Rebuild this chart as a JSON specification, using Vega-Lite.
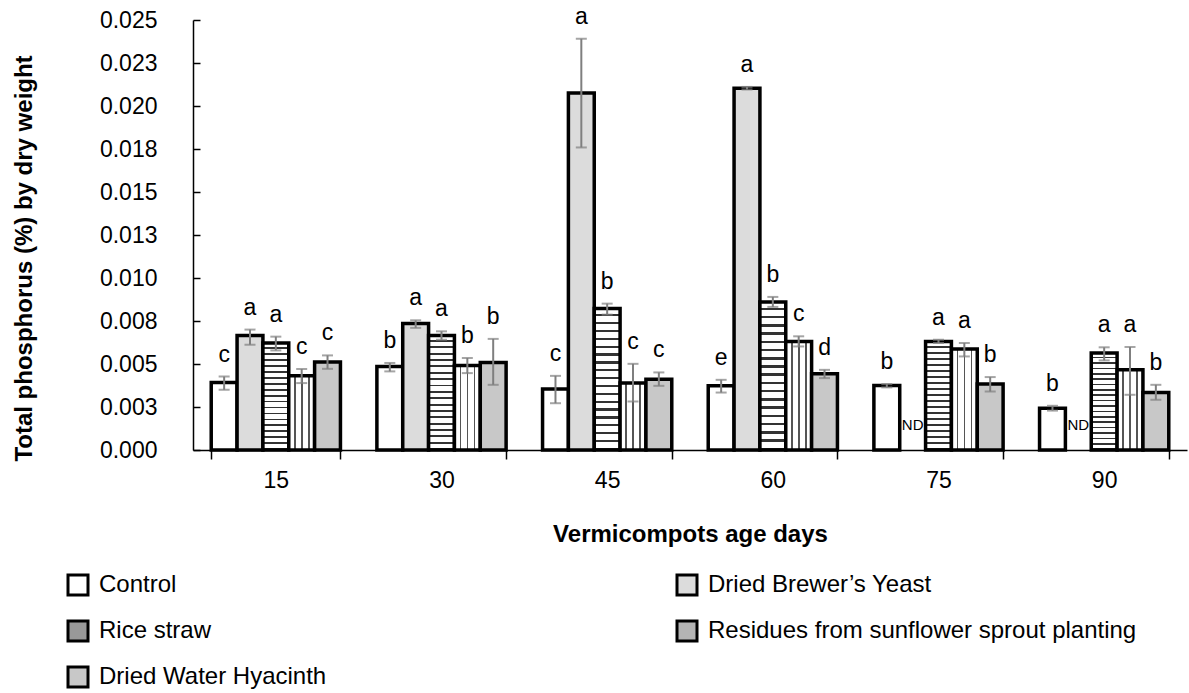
{
  "$schema": "https://vega.github.io/schema/vega-lite/v6.json",
  "width": 994,
  "height": 430,
  "autosize": {"type": "none"},
  "padding": {"left": 193, "top": 20, "right": 2, "bottom": 243},
  "background": "white",
  "config": {"font": "Liberation Sans", "view": {"stroke": null}},
  "data": {
    "values": [
      {"day": "15", "trt": "Control", "value": 0.00392, "lo": 0.0035, "hi": 0.00427, "letter": "c"},
      {"day": "15", "trt": "Dried Brewer’s Yeast", "value": 0.00665, "lo": 0.00612, "hi": 0.007, "letter": "a"},
      {"day": "15", "trt": "Rice straw", "value": 0.00622, "lo": 0.00579, "hi": 0.00659, "letter": "a"},
      {"day": "15", "trt": "Residues from sunflower sprout planting", "value": 0.00431, "lo": 0.00389, "hi": 0.00471, "letter": "c"},
      {"day": "15", "trt": "Dried Water Hyacinth", "value": 0.00511, "lo": 0.00472, "hi": 0.0055, "letter": "c"},
      {"day": "30", "trt": "Control", "value": 0.00486, "lo": 0.00457, "hi": 0.00506, "letter": "b"},
      {"day": "30", "trt": "Dried Brewer’s Yeast", "value": 0.00735, "lo": 0.0071, "hi": 0.00754, "letter": "a"},
      {"day": "30", "trt": "Rice straw", "value": 0.00665, "lo": 0.00641, "hi": 0.0069, "letter": "a"},
      {"day": "30", "trt": "Residues from sunflower sprout planting", "value": 0.00492, "lo": 0.00447, "hi": 0.00535, "letter": "b"},
      {"day": "30", "trt": "Dried Water Hyacinth", "value": 0.00509, "lo": 0.00379, "hi": 0.00646, "letter": "b"},
      {"day": "45", "trt": "Control", "value": 0.00354, "lo": 0.00272, "hi": 0.00431, "letter": "c"},
      {"day": "45", "trt": "Dried Brewer’s Yeast", "value": 0.02076, "lo": 0.01759, "hi": 0.02391, "letter": "a"},
      {"day": "45", "trt": "Rice straw", "value": 0.00822, "lo": 0.00787, "hi": 0.00851, "letter": "b"},
      {"day": "45", "trt": "Residues from sunflower sprout planting", "value": 0.00389, "lo": 0.00282, "hi": 0.00501, "letter": "c"},
      {"day": "45", "trt": "Dried Water Hyacinth", "value": 0.00412, "lo": 0.00373, "hi": 0.00451, "letter": "c"},
      {"day": "60", "trt": "Control", "value": 0.00373, "lo": 0.00334, "hi": 0.00408, "letter": "e"},
      {"day": "60", "trt": "Dried Brewer’s Yeast", "value": 0.02103, "lo": 0.02096, "hi": 0.02111, "letter": "a"},
      {"day": "60", "trt": "Rice straw", "value": 0.00861, "lo": 0.00832, "hi": 0.0089, "letter": "b"},
      {"day": "60", "trt": "Residues from sunflower sprout planting", "value": 0.00631, "lo": 0.00602, "hi": 0.00661, "letter": "c"},
      {"day": "60", "trt": "Dried Water Hyacinth", "value": 0.00443, "lo": 0.00418, "hi": 0.00466, "letter": "d"},
      {"day": "75", "trt": "Control", "value": 0.00375, "lo": 0.00364, "hi": 0.00383, "letter": "b"},
      {"day": "75", "trt": "Dried Brewer’s Yeast", "value": 0, "lo": null, "hi": null, "letter": "ND"},
      {"day": "75", "trt": "Rice straw", "value": 0.00631, "lo": 0.00622, "hi": 0.00641, "letter": "a"},
      {"day": "75", "trt": "Residues from sunflower sprout planting", "value": 0.00587, "lo": 0.00544, "hi": 0.00622, "letter": "a"},
      {"day": "75", "trt": "Dried Water Hyacinth", "value": 0.00383, "lo": 0.0034, "hi": 0.00424, "letter": "b"},
      {"day": "90", "trt": "Control", "value": 0.00243, "lo": 0.00229, "hi": 0.00257, "letter": "b"},
      {"day": "90", "trt": "Dried Brewer’s Yeast", "value": 0, "lo": null, "hi": null, "letter": "ND"},
      {"day": "90", "trt": "Rice straw", "value": 0.00564, "lo": 0.00521, "hi": 0.00597, "letter": "a"},
      {"day": "90", "trt": "Residues from sunflower sprout planting", "value": 0.00466, "lo": 0.00321, "hi": 0.00599, "letter": "a"},
      {"day": "90", "trt": "Dried Water Hyacinth", "value": 0.00334, "lo": 0.00292, "hi": 0.00379, "letter": "b"}
    ]
  },
  "encoding": {
    "x": {
      "field": "day",
      "type": "ordinal",
      "sort": ["15", "30", "45", "60", "75", "90"],
      "scale": {"paddingInner": 0.22, "paddingOuter": 0.11},
      "axis": {
        "title": "Vermicompots age days",
        "labelAngle": 0,
        "tickBand": "extent",
        "tickSize": 9,
        "tickColor": "black",
        "tickWidth": 1.5,
        "domainColor": "black",
        "domainWidth": 1.5,
        "labelFontSize": 23,
        "labelColor": "black",
        "labelPadding": 10,
        "titleFontSize": 24,
        "titleFontWeight": "bold",
        "titleColor": "black",
        "titleY": 84,
        "titleBaseline": "middle"
      }
    },
    "xOffset": {
      "field": "trt",
      "type": "nominal",
      "scale": {
        "domain": ["Control", "Dried Brewer’s Yeast", "Rice straw", "Residues from sunflower sprout planting", "Dried Water Hyacinth"],
        "paddingInner": 0,
        "paddingOuter": 0
      }
    }
  },
  "layer": [
    {
      "transform": [{"filter": "datum.letter != 'ND'"}],
      "mark": {"type": "bar", "stroke": "black", "strokeWidth": 3.5},
      "encoding": {
        "y": {
          "field": "value",
          "type": "quantitative",
          "title": "Total phosphorus (%) by dry weight",
          "scale": {"domain": [0, 0.025], "nice": false, "zero": true},
          "axis": {
            "values": [0, 0.0025, 0.005, 0.0075, 0.01, 0.0125, 0.015, 0.0175, 0.02, 0.0225, 0.025],
            "labelExpr": "format(datum.value + 0.000000001, '.3f')",
            "grid": false,
            "domainColor": "black",
            "domainWidth": 1.5,
            "tickColor": "black",
            "tickWidth": 1.5,
            "tickSize": -7,
            "labelFontSize": 23,
            "labelColor": "black",
            "labelPadding": 43,
            "titleFontSize": 24,
            "titleFontWeight": "bold",
            "titleColor": "black",
            "titleX": -169,
            "titleY": 238,
            "titleAngle": -90,
            "titleAlign": "center",
            "titleBaseline": "middle"
          }
        },
        "fill": {
          "field": "trt",
          "type": "nominal",
          "condition": [
            {"test": "datum.trt === 'Rice straw'", "value": {"gradient": "linear", "x1": 0, "y1": 0, "x2": 0, "y2": 1, "stops": [
                {"offset": 0, "color": "#ffffff"}, {"offset": 0.0389, "color": "#ffffff"}, {"offset": 0.0389, "color": "#333333"},
                {"offset": 0.0556, "color": "#333333"}, {"offset": 0.0556, "color": "#ffffff"}, {"offset": 0.0944, "color": "#ffffff"}, {"offset": 0.0944, "color": "#333333"},
                {"offset": 0.1111, "color": "#333333"}, {"offset": 0.1111, "color": "#ffffff"}, {"offset": 0.15, "color": "#ffffff"}, {"offset": 0.15, "color": "#333333"},
                {"offset": 0.1667, "color": "#333333"}, {"offset": 0.1667, "color": "#ffffff"}, {"offset": 0.2056, "color": "#ffffff"}, {"offset": 0.2056, "color": "#333333"},
                {"offset": 0.2222, "color": "#333333"}, {"offset": 0.2222, "color": "#ffffff"}, {"offset": 0.2611, "color": "#ffffff"}, {"offset": 0.2611, "color": "#333333"},
                {"offset": 0.2778, "color": "#333333"}, {"offset": 0.2778, "color": "#ffffff"}, {"offset": 0.3167, "color": "#ffffff"}, {"offset": 0.3167, "color": "#333333"},
                {"offset": 0.3333, "color": "#333333"}, {"offset": 0.3333, "color": "#ffffff"}, {"offset": 0.3722, "color": "#ffffff"}, {"offset": 0.3722, "color": "#333333"},
                {"offset": 0.3889, "color": "#333333"}, {"offset": 0.3889, "color": "#ffffff"}, {"offset": 0.4278, "color": "#ffffff"}, {"offset": 0.4278, "color": "#333333"},
                {"offset": 0.4444, "color": "#333333"}, {"offset": 0.4444, "color": "#ffffff"}, {"offset": 0.4833, "color": "#ffffff"}, {"offset": 0.4833, "color": "#333333"},
                {"offset": 0.5, "color": "#333333"}, {"offset": 0.5, "color": "#ffffff"}, {"offset": 0.5389, "color": "#ffffff"}, {"offset": 0.5389, "color": "#333333"},
                {"offset": 0.5556, "color": "#333333"}, {"offset": 0.5556, "color": "#ffffff"}, {"offset": 0.5944, "color": "#ffffff"}, {"offset": 0.5944, "color": "#333333"},
                {"offset": 0.6111, "color": "#333333"}, {"offset": 0.6111, "color": "#ffffff"}, {"offset": 0.65, "color": "#ffffff"}, {"offset": 0.65, "color": "#333333"},
                {"offset": 0.6667, "color": "#333333"}, {"offset": 0.6667, "color": "#ffffff"}, {"offset": 0.7056, "color": "#ffffff"}, {"offset": 0.7056, "color": "#333333"},
                {"offset": 0.7222, "color": "#333333"}, {"offset": 0.7222, "color": "#ffffff"}, {"offset": 0.7611, "color": "#ffffff"}, {"offset": 0.7611, "color": "#333333"},
                {"offset": 0.7778, "color": "#333333"}, {"offset": 0.7778, "color": "#ffffff"}, {"offset": 0.8167, "color": "#ffffff"}, {"offset": 0.8167, "color": "#333333"},
                {"offset": 0.8333, "color": "#333333"}, {"offset": 0.8333, "color": "#ffffff"}, {"offset": 0.8722, "color": "#ffffff"}, {"offset": 0.8722, "color": "#333333"},
                {"offset": 0.8889, "color": "#333333"}, {"offset": 0.8889, "color": "#ffffff"}, {"offset": 0.9278, "color": "#ffffff"}, {"offset": 0.9278, "color": "#333333"},
                {"offset": 0.9444, "color": "#333333"}, {"offset": 0.9444, "color": "#ffffff"}, {"offset": 0.9833, "color": "#ffffff"}, {"offset": 0.9833, "color": "#333333"},
                {"offset": 1, "color": "#333333"}
              ]}},
            {"test": "datum.trt === 'Residues from sunflower sprout planting'", "value": {"gradient": "linear", "x1": 0, "y1": 0, "x2": 1, "y2": 0, "stops": [
                {"offset": 0, "color": "#ffffff"}, {"offset": 0.2, "color": "#ffffff"}, {"offset": 0.2, "color": "#555555"}, {"offset": 0.27, "color": "#555555"}, {"offset": 0.27, "color": "#ffffff"},
                {"offset": 0.47, "color": "#ffffff"}, {"offset": 0.47, "color": "#555555"}, {"offset": 0.54, "color": "#555555"}, {"offset": 0.54, "color": "#ffffff"},
                {"offset": 0.74, "color": "#ffffff"}, {"offset": 0.74, "color": "#555555"}, {"offset": 0.81, "color": "#555555"}, {"offset": 0.81, "color": "#ffffff"}, {"offset": 1, "color": "#ffffff"}
              ]}}
          ],
          "scale": {
            "domain": ["Control", "Dried Brewer’s Yeast", "Rice straw", "Residues from sunflower sprout planting", "Dried Water Hyacinth"],
            "range": ["#ffffff", "#dcdcdc", "#999999", "#b4b4b4", "#c8c8c8"]
          },
          "legend": {
            "orient": "none",
            "legendX": -127,
            "legendY": 553,
            "columns": 2,
            "direction": "horizontal",
            "title": null,
            "symbolType": "square",
            "symbolSize": 400,
            "symbolStrokeColor": "black",
            "symbolStrokeWidth": 3,
            "symbolOpacity": 1,
            "labelFontSize": 24,
            "labelColor": "black",
            "labelOffset": 9,
            "rowPadding": 14,
            "columnPadding": 344,
            "padding": 0,
            "labelLimit": 700
          }
        }
      }
    },
    {
      "transform": [{"filter": "datum.letter != 'ND'"}],
      "mark": {"type": "rule", "color": "#7f7f7f", "strokeWidth": 2},
      "encoding": {
        "y": {"field": "lo", "type": "quantitative", "title": "Total phosphorus (%) by dry weight", "scale": {"domain": [0, 0.025], "nice": false}},
        "y2": {"field": "hi"}
      }
    },
    {
      "transform": [{"filter": "datum.letter != 'ND'"}],
      "mark": {"type": "tick", "color": "#7f7f7f", "thickness": 2, "size": 11, "orient": "horizontal"},
      "encoding": {
        "y": {"field": "hi", "type": "quantitative", "title": "Total phosphorus (%) by dry weight", "scale": {"domain": [0, 0.025], "nice": false}}
      }
    },
    {
      "transform": [{"filter": "datum.letter != 'ND'"}],
      "mark": {"type": "tick", "color": "#7f7f7f", "thickness": 2, "size": 11, "orient": "horizontal"},
      "encoding": {
        "y": {"field": "lo", "type": "quantitative", "title": "Total phosphorus (%) by dry weight", "scale": {"domain": [0, 0.025], "nice": false}}
      }
    },
    {
      "transform": [{"filter": "datum.letter != 'ND'"}],
      "mark": {"type": "text", "fontSize": 23, "color": "black", "baseline": "alphabetic", "dy": -15},
      "encoding": {
        "y": {"field": "hi", "type": "quantitative", "title": "Total phosphorus (%) by dry weight", "scale": {"domain": [0, 0.025], "nice": false}},
        "text": {"field": "letter"}
      }
    },
    {
      "transform": [{"filter": "datum.letter == 'ND'"}],
      "mark": {"type": "text", "fontSize": 15, "color": "black", "baseline": "alphabetic", "dy": -20},
      "encoding": {
        "y": {"field": "value", "type": "quantitative", "title": "Total phosphorus (%) by dry weight", "scale": {"domain": [0, 0.025], "nice": false}},
        "text": {"field": "letter"}
      }
    }
  ]
}
